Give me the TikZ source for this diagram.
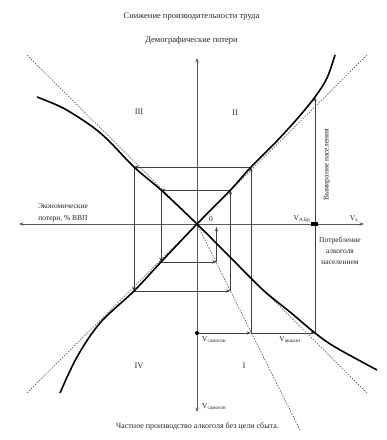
\documentclass[tikz,border=0pt]{standalone}
\usepackage{fontspec}
\setmainfont{Liberation Serif}
\usetikzlibrary{arrows.meta}
\begin{document}
\begin{tikzpicture}[x=1pt,y=1pt,
  axis/.style={line width=0.9pt, draw=black!65, {Stealth[length=4.5pt,width=3.4pt]}-{Stealth[length=4.5pt,width=3.4pt]}},
  curve/.style={line width=1.6pt, draw=black},
  guide/.style={line width=0.5pt, draw=black!75, dash pattern=on 1.6pt off 1.3pt},
  cob/.style={line width=0.8pt, draw=black!75, -{Stealth[length=4.5pt,width=3.2pt]}},
  lbl/.style={font=\fontsize{8}{9.5}\selectfont, inner sep=0pt, text=black!85},
  quad/.style={font=\fontsize{8.5}{10}\selectfont, inner sep=0pt, text=black!80},
]
\useasboundingbox (0,0) rectangle (387,440);
% origin and axes ends
\coordinate (O) at (197,216);
\coordinate (Ytop) at (197,382);
\coordinate (Ybot) at (197,28);
\coordinate (Xl) at (19,216);
\coordinate (Xr) at (364,216);
% guide (dashed) ends
\coordinate (GA1) at (27,385);
\coordinate (GA2) at (367,47);
\coordinate (GB1) at (27,47);
\coordinate (GB2) at (367,385);
\coordinate (GC) at (300,10);
% dashed guides
\draw[guide] (GA1) -- (GA2);
\draw[guide] (GB1) -- (GB2);
\draw[guide] (O) -- (GC);
% axes
\draw[axis] (Xl) -- (Xr);
\draw[axis] (Ybot) -- (Ytop);
% cobweb points
\coordinate (P1) at (197,107);
\coordinate (P2) at (251,107);
\coordinate (P3) at (251,273);
\coordinate (P4) at (134,273);
\coordinate (P5) at (134,149);
\coordinate (P6) at (230.5,149);
\coordinate (P7) at (230.5,250);
\coordinate (P8) at (161,250);
\coordinate (P9) at (161,178);
\coordinate (P10) at (216.5,178);
\coordinate (P11) at (216.5,213);
\coordinate (Q1) at (315,107);
\coordinate (Q2) at (315,343);
\draw[cob] (P1) -- (P2);
\draw[cob] (P2) -- (P3);
\draw[cob] (P3) -- (P4);
\draw[cob] (P4) -- (P5);
\draw[cob] (P5) -- (P6);
\draw[cob] (P6) -- (P7);
\draw[cob] (P7) -- (P8);
\draw[cob] (P8) -- (P9);
\draw[cob] (P9) -- (P10);
\draw[cob] (P10) -- (P11);
\draw[cob] (P2) -- (Q1);
\draw[cob] (Q1) -- (Q2);
% solid curves
\draw[curve] plot[smooth, tension=0.55] coordinates {(37,343) (63,332) (90,315) (108,300) (134,273) (161,250) (197,216) (230,183) (263,150) (290,128) (315,107) (335,93) (377,70)};
\draw[curve] plot[smooth, tension=0.55] coordinates {(60,47) (77,83) (100,117) (134,149) (161,178) (197,216) (230.5,250) (251,273) (275,297) (297,321) (315,343) (327,362) (335,385)};
% dots
\fill[black] (P1) circle (2pt);
\node[fill=black, minimum width=7pt, minimum height=4pt, inner sep=0pt] (VB) at (314,216) {};
% labels
\node[lbl, font=\fontsize{8.5}{10}\selectfont] (T1) at (191.5,423) {Снижение производительности труда};
\node[lbl, font=\fontsize{8.5}{10}\selectfont] (T2) at (191.5,400) {Демографические потери};
\node[quad] (Q3) at (139,328) {III};
\node[quad] (Q2l) at (235,327) {II};
\node[quad] (Q4) at (139,74) {IV};
\node[quad] (Q1l) at (244,74) {I};
\node[lbl, align=center, font=\fontsize{7.5}{11.5}\selectfont] (EL) at (63,227) {Экономические\\потери, \% ВВП};
\node[lbl, font=\fontsize{7.5}{9}\selectfont] (O0) at (211,221) {0};
\node[lbl, font=\fontsize{7.5}{9}\selectfont] (VAB) at (302,221) {V\textsubscript{А.Бр}};
\node[lbl, font=\fontsize{7.5}{9}\selectfont] (VA) at (354,221) {V\textsubscript{а}};
\node[lbl, align=center, font=\fontsize{7.5}{11}\selectfont] (PL) at (340,189) {Потребление\\алкоголя\\населением};
\node[lbl, rotate=90, font=\fontsize{7.5}{9}\selectfont] (VN) at (327,275) {Вымирание населения};
\node[lbl, anchor=west, font=\fontsize{7.5}{9}\selectfont] (VS1) at (202,100) {V\textsubscript{самогон}};
\node[lbl, font=\fontsize{7.5}{9}\selectfont] (VAK) at (290,100) {V\textsubscript{акцизн}};
\node[lbl, anchor=west, font=\fontsize{7.5}{9}\selectfont] (VS2) at (202,33) {V\textsubscript{самогон}};
\node[lbl, font=\fontsize{8}{9.5}\selectfont] (BOT) at (197.5,14) {Частное производство алкоголя без цели сбыта.};
\end{tikzpicture}
\end{document}
